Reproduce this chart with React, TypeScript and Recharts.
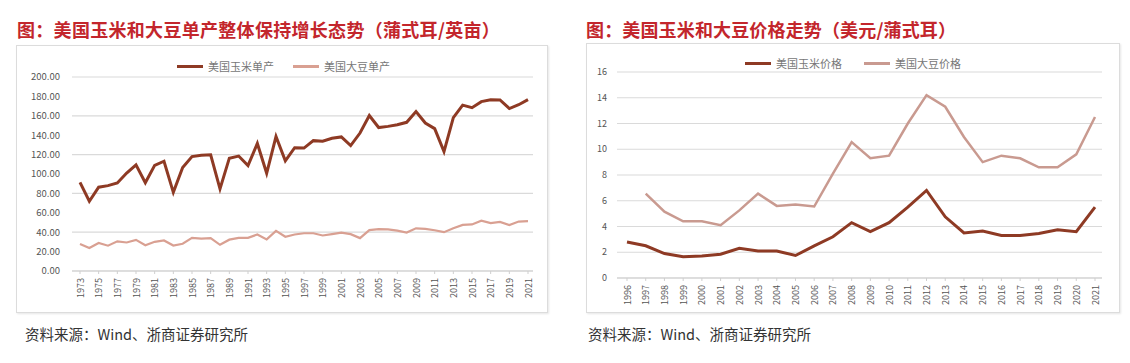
import React from 'react';
import { LineChart, Line, XAxis, YAxis, CartesianGrid } from 'recharts';

const yieldYears = ['1973','1974','1975','1976','1977','1978','1979','1980','1981','1982','1983','1984','1985','1986','1987','1988','1989','1990','1991','1992','1993','1994','1995','1996','1997','1998','1999','2000','2001','2002','2003','2004','2005','2006','2007','2008','2009','2010','2011','2012','2013','2014','2015','2016','2017','2018','2019','2020','2021'];
const cornYield = [91.3,71.9,86.4,88.0,90.8,101.0,109.5,91.0,108.9,113.2,81.1,106.7,118.0,119.4,119.8,84.6,116.3,118.5,108.6,131.5,100.7,138.6,113.5,127.1,126.7,134.4,133.8,136.9,138.2,129.3,142.2,160.3,147.9,149.1,150.7,153.3,164.4,152.6,146.8,123.1,158.1,171.0,168.4,174.6,176.6,176.4,167.5,171.4,176.7];
const soyYield = [27.8,23.7,28.9,26.1,30.6,29.4,32.1,26.5,30.1,31.5,26.2,28.1,34.1,33.3,33.9,27.0,32.3,34.1,34.2,37.6,32.6,41.4,35.3,37.6,38.9,38.9,36.6,38.1,39.6,38.0,33.9,42.2,43.1,42.9,41.7,39.7,44.0,43.5,42.0,40.0,44.0,47.5,48.0,51.9,49.3,50.6,47.4,51.0,51.4];
const yieldTicks = [0,20,40,60,80,100,120,140,160,180,200];

const priceYears = ['1996','1997','1998','1999','2000','2001','2002','2003','2004','2005','2006','2007','2008','2009','2010','2011','2012','2013','2014','2015','2016','2017','2018','2019','2020','2021'];
const cornPrice = [2.8,2.5,1.9,1.65,1.7,1.85,2.3,2.1,2.1,1.75,2.5,3.2,4.3,3.6,4.3,5.5,6.8,4.75,3.5,3.65,3.3,3.3,3.45,3.75,3.6,5.5];
const soyPrice = [null,6.55,5.15,4.4,4.4,4.1,5.25,6.55,5.6,5.7,5.55,8.1,10.55,9.3,9.5,12.0,14.2,13.3,10.95,9.0,9.5,9.3,8.6,8.6,9.6,12.5];
const priceTicks = [0,2,4,6,8,10,12,14,16];

const titleLeft = '图：美国玉米和大豆单产整体保持增长态势（蒲式耳/英亩）';
const titleRight = '图：美国玉米和大豆价格走势（美元/蒲式耳）';
const source = '资料来源：Wind、浙商证券研究所';
const legendLeft = ['美国玉米单产', '美国大豆单产'];
const legendRight = ['美国玉米价格', '美国大豆价格'];

const yieldData = yieldYears.map((y, i) => ({ year: y, corn: cornYield[i], soy: soyYield[i] }));
const priceData = priceYears.map((y, i) => ({ year: y, corn: cornPrice[i], soy: soyPrice[i] }));

const FONT = '"Noto Sans CJK SC", "Noto Sans", sans-serif';
const CORN = '#8e3a24';
const SOY_L = '#d9a092';
const SOY_R = '#c99a90';
const TITLE = '#c3262c';

const XTick = (props: any) => {
  const { x, y, payload } = props;
  return (
    <text x={x} y={y} transform={`rotate(-90 ${x} ${y})`} textAnchor="end" dominantBaseline="central"
      fontSize={9} fill="#555" fontFamily={FONT}>{payload.value}</text>
  );
};

const Legend = ({ left, top, items, colors, gap }: any) => (
  <div style={{ position: 'absolute', left, top, display: 'flex', alignItems: 'center', fontFamily: FONT, fontSize: 11, color: '#777', whiteSpace: 'nowrap' }}>
    {items.map((t: string, i: number) => (
      <div key={t} style={{ display: 'flex', alignItems: 'center', marginRight: i === 0 ? gap : 0 }}>
        <span style={{ display: 'inline-block', width: 26, height: 3, background: colors[i], marginRight: 5 }} />
        <span>{t}</span>
      </div>
    ))}
  </div>
);

export default function App() {
  return (
    <div style={{ position: 'absolute', left: 0, top: 0, width: 1130, height: 363, background: '#fff', overflow: 'hidden' }}>
      <div style={{ position: 'absolute', left: 17, top: 16, fontFamily: FONT, fontWeight: 700, fontSize: 18, letterSpacing: 0.3, color: TITLE, whiteSpace: 'nowrap', lineHeight: '26px' }}>{titleLeft}</div>
      <div style={{ position: 'absolute', left: 586, top: 16, fontFamily: FONT, fontWeight: 700, fontSize: 18, letterSpacing: 0.15, color: TITLE, whiteSpace: 'nowrap', lineHeight: '26px' }}>{titleRight}</div>

      <div style={{ position: 'absolute', left: 16, top: 45, width: 530, height: 266, border: '1px solid #dcdcdc', boxShadow: '1px 1px 2px #e6e6e6' }} />
      <div style={{ position: 'absolute', left: 586, top: 43, width: 532, height: 268, border: '1px solid #dcdcdc', boxShadow: '1px 1px 2px #e6e6e6' }} />

      <div style={{ position: 'absolute', left: 16, top: 45 }}>
        <LineChart width={531} height={267} data={yieldData} margin={{ top: 32, right: 14, left: 0, bottom: 0 }}>
          <CartesianGrid vertical={false} stroke="#dadada" strokeWidth={1.2} />
          <XAxis dataKey="year" interval={1} height={41} padding={{ left: 8, right: 5 }} stroke="#cfcfcf" tickSize={3} tickMargin={4} tick={<XTick />} />
          <YAxis width={56} domain={[0, 200]} ticks={yieldTicks} axisLine={false} tickLine={false} tickMargin={6}
            tickFormatter={(v: number) => v.toFixed(2)} tick={{ fontSize: 9.5, fill: '#555', fontFamily: FONT }} />
          <Line dataKey="soy" stroke={SOY_L} strokeWidth={2.2} dot={false} isAnimationActive={false} />
          <Line dataKey="corn" stroke={CORN} strokeWidth={3} dot={false} isAnimationActive={false} />
        </LineChart>
      </div>

      <div style={{ position: 'absolute', left: 586, top: 43 }}>
        <LineChart width={533} height={269} data={priceData} margin={{ top: 29, right: 17, left: 0, bottom: 0 }}>
          <CartesianGrid vertical={false} stroke="#dadada" strokeWidth={1.2} />
          <XAxis dataKey="year" interval={0} height={34} padding={{ left: 10, right: 7 }} stroke="#cfcfcf" tickSize={3} tickMargin={4} tick={<XTick />} />
          <YAxis width={31} domain={[0, 16]} ticks={priceTicks} axisLine={false} tickLine={false} tickMargin={4}
            tick={{ fontSize: 9, fill: '#555', fontFamily: FONT }} />
          <Line dataKey="soy" stroke={SOY_R} strokeWidth={2.5} dot={false} isAnimationActive={false} />
          <Line dataKey="corn" stroke={CORN} strokeWidth={3} dot={false} isAnimationActive={false} />
        </LineChart>
      </div>

      <Legend left={177} top={58} items={legendLeft} colors={[CORN, SOY_L]} gap={19} />
      <Legend left={745} top={55} items={legendRight} colors={[CORN, SOY_R]} gap={22} />

      <div style={{ position: 'absolute', left: 25, top: 324, fontFamily: FONT, fontSize: 14.5, color: '#333', whiteSpace: 'nowrap', lineHeight: '20px' }}>{source}</div>
      <div style={{ position: 'absolute', left: 588, top: 324, fontFamily: FONT, fontSize: 14.5, color: '#333', whiteSpace: 'nowrap', lineHeight: '20px' }}>{source}</div>
    </div>
  );
}
